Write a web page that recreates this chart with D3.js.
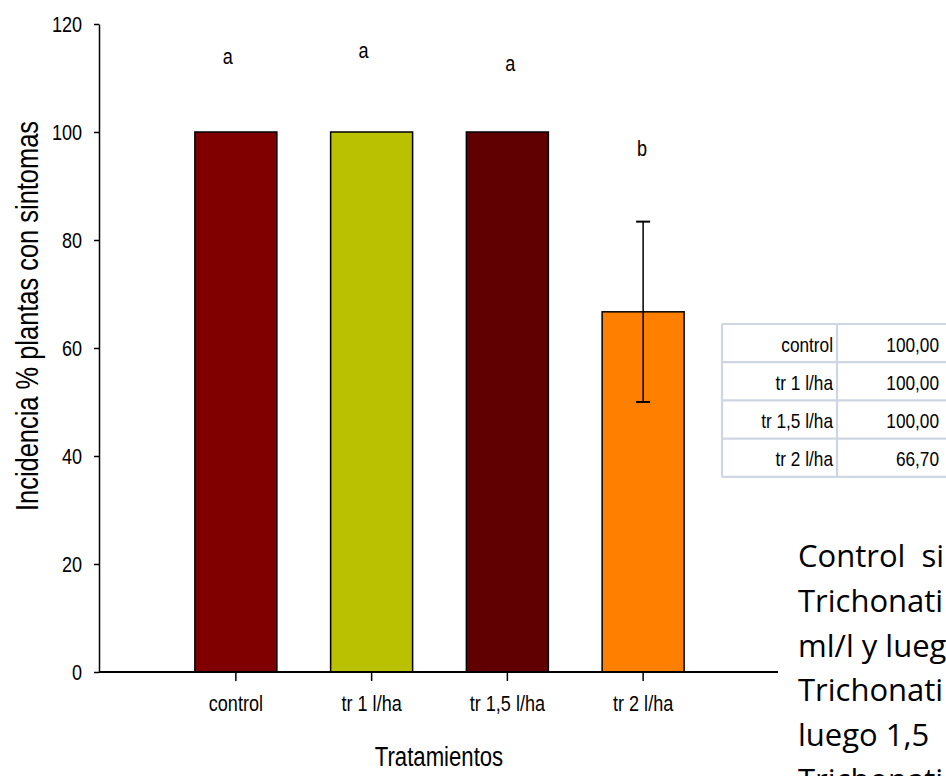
<!DOCTYPE html>
<html><head><meta charset="utf-8">
<script src="https://cdn.jsdelivr.net/npm/d3@7"></script>
<style>body{margin:0;background:#fff;overflow:hidden}</style>
</head><body><svg id="c" width="946" height="776"></svg>
<script>
// ---- data ----
const categories = ["control", "tr 1 l/ha", "tr 1,5 l/ha", "tr 2 l/ha"];
const values = [100, 100, 100, 66.7];
const errors = [0, 0, 0, 16.7];
const barColors = ["#800000", "#b9c100", "#600000", "#ff8000"];
const letters = ["a", "a", "a", "b"];
const letterValues = [112.6, 113.7, 111.3, 95.6];
const letterShift = [-8, -8, 3, -1];
const yTicks = [0, 20, 40, 60, 80, 100, 120];
const tableLabels = ["control", "tr 1 l/ha", "tr 1,5 l/ha", "tr 2 l/ha"];
const tableValues = ["100,00", "100,00", "100,00", "66,70"];
const noteLines = ["Control  si", "Trichonati", "ml/l y lueg", "Trichonati", "luego 1,5", "Trichonati"];
const yTitle = "Incidencia % plantas con sintomas";
const xTitle = "Tratamientos";

// ---- font handling ----
const cv = document.createElement("canvas").getContext("2d");
cv.font = "40px 'Liberation Sans Narrow', monospace";
const wN = cv.measureText("control tratamientos").width;
cv.font = "40px monospace";
const wM = cv.measureText("control tratamientos").width;
const hasNarrow = Math.abs(wN - wM) > 1;
const NARROW = hasNarrow ? "'Liberation Sans Narrow', 'Arial Narrow', sans-serif" : "'Liberation Sans', Arial, sans-serif";
function narrow(sel) {
  if (!hasNarrow) sel.each(function () {
    const l = this.getComputedTextLength();
    d3.select(this).attr("textLength", l * 0.82).attr("lengthAdjust", "spacingAndGlyphs");
  });
}

const svg = d3.select("#c");
const y = d3.scaleLinear().domain([0, 120]).range([672, 24]);
const x = d3.scaleBand().domain(categories).range([168, 711]).paddingInner(0.396).paddingOuter(0.198);

// bars
svg.append("g").selectAll("rect").data(categories).join("rect")
  .attr("x", d => x(d)).attr("width", x.bandwidth())
  .attr("y", (d, i) => y(values[i])).attr("height", (d, i) => y(0) - y(values[i]))
  .attr("fill", (d, i) => barColors[i]).attr("stroke", "#000").attr("stroke-width", 1.5);

// error bars
const eb = svg.append("g").attr("stroke", "#000").attr("stroke-width", 1.5);
categories.forEach((c, i) => {
  if (!errors[i]) return;
  const cx = x(c) + x.bandwidth() / 2;
  const hi = y(values[i] + errors[i]), lo = y(values[i] - errors[i]);
  eb.append("line").attr("x1", cx).attr("x2", cx).attr("y1", hi).attr("y2", lo);
  eb.append("line").attr("x1", cx - 7).attr("x2", cx + 7).attr("y1", hi).attr("y2", hi).attr("stroke-width", 2);
  eb.append("line").attr("x1", cx - 7).attr("x2", cx + 7).attr("y1", lo).attr("y2", lo).attr("stroke-width", 2);
});

// significance letters
svg.append("g").selectAll("text").data(letters).join("text")
  .attr("x", (d, i) => x(categories[i]) + x.bandwidth() / 2 + letterShift[i])
  .attr("y", (d, i) => y(letterValues[i]))
  .attr("text-anchor", "middle").attr("font-family", NARROW).attr("font-size", 22)
  .text(d => d).call(narrow);

// y axis
const yAxis = svg.append("g").attr("transform", "translate(99,0)")
  .call(d3.axisLeft(y).tickValues(yTicks).tickSize(5).tickSizeOuter(0).tickPadding(12));
yAxis.select(".domain").attr("stroke-width", 1.5);
yAxis.selectAll(".tick line").attr("stroke-width", 1.5);
yAxis.selectAll(".tick text").attr("font-family", NARROW).attr("font-size", 22).attr("fill", "#000").call(narrow);

// x axis
svg.append("line").attr("x1", 99).attr("x2", 778).attr("y1", y(0)).attr("y2", y(0))
  .attr("stroke", "#000").attr("stroke-width", 2.2);
const xAxis = svg.append("g").attr("transform", `translate(0,${y(0)})`)
  .call(d3.axisBottom(x).tickSize(9).tickSizeOuter(0).tickPadding(14));
xAxis.select(".domain").remove();
xAxis.selectAll(".tick line").attr("stroke-width", 1.5);
xAxis.selectAll(".tick text").attr("font-family", NARROW).attr("font-size", 22).attr("fill", "#000").call(narrow);

// titles
svg.append("text").attr("transform", "translate(38,316) rotate(-90)")
  .attr("text-anchor", "middle").attr("font-family", NARROW).attr("font-size", 31)
  .text(yTitle).call(narrow);
svg.append("text").attr("x", 439).attr("y", 766)
  .attr("text-anchor", "middle").attr("font-family", NARROW).attr("font-size", 27)
  .text(xTitle).call(narrow);

// table
const tTop = 324, rowH = 38.2, tLeft = 722, tMid = 837, tRight = 960;
const tb = svg.append("g");
const rowYs = d3.range(tableLabels.length + 1).map(k => tTop + k * rowH);
tb.selectAll("line.h").data(rowYs).join("line").attr("class", "h")
  .attr("x1", tLeft).attr("x2", tRight).attr("y1", d => d).attr("y2", d => d)
  .attr("stroke", "#cfd6e3").attr("stroke-width", 2.2);
tb.selectAll("line.v").data([tLeft, tMid]).join("line").attr("class", "v")
  .attr("x1", d => d).attr("x2", d => d).attr("y1", tTop).attr("y2", rowYs[rowYs.length - 1])
  .attr("stroke", "#cfd6e3").attr("stroke-width", 2.2);
tb.selectAll("text.l").data(tableLabels).join("text").attr("class", "l")
  .attr("x", tMid - 4).attr("y", (d, i) => rowYs[i] + 27.5).attr("text-anchor", "end")
  .attr("font-family", NARROW).attr("font-size", 21).text(d => d).call(narrow);
tb.selectAll("text.v").data(tableValues).join("text").attr("class", "v")
  .attr("x", 939).attr("y", (d, i) => rowYs[i] + 27.5).attr("text-anchor", "end")
  .attr("font-family", NARROW).attr("font-size", 21).text(d => d).call(narrow);

// side note text
svg.append("g").selectAll("text").data(noteLines).join("text")
  .attr("x", 798).attr("y", (d, i) => 566.7 + i * 44.9)
  .attr("font-family", "'Open Sans', 'Noto Sans', sans-serif").attr("font-size", 31)
  .style("white-space", "pre").attr("fill", "#000").text(d => d);
</script></body></html>
